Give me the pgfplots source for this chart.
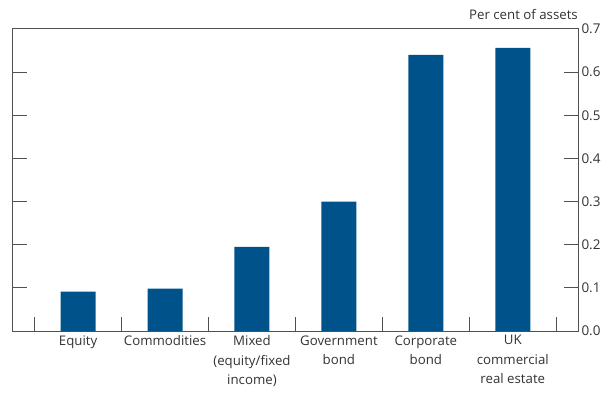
\documentclass[border=0pt]{standalone}
\usepackage{pgfplots}
\pgfplotsset{compat=1.18}
\usepackage{fontspec}
\setmainfont{Open Sans}
\definecolor{boe}{RGB}{0,83,138}
\definecolor{axgray}{RGB}{80,80,80}
\definecolor{txt}{RGB}{51,51,51}
\begin{document}
\begin{tikzpicture}[x=1bp,y=1bp]
\useasboundingbox (0,0) rectangle (613,394);
\begin{axis}[
  ybar, bar width=35bp,
  at={(12bp,63bp)}, anchor=south west,
  width=566bp, height=302bp, scale only axis,
  xmin=-0.76, xmax=5.75, ymin=0, ymax=0.7,
  axis line style={axgray, line width=1bp},
  every tick/.style={axgray, line width=1bp},
  major tick length=14.5bp,
  ytick={0,0.1,...,0.7},
  ytick pos=both,
  yticklabel pos=right,
  yticklabel style={/pgf/number format/fixed, /pgf/number format/fixed zerofill, /pgf/number format/precision=1, text=txt, font=\fontsize{13.5}{15}\selectfont, xshift=0bp},
  /pgf/number format/assume math mode=true,
  xtick={-0.5,0.5,1.5,2.5,3.5,4.5,5.5},
  xticklabels={},
  xtick pos=left,
  extra x ticks={0,1,2,3,4,5},
  extra x tick labels={Equity, Commodities, Mixed\\(equity/fixed\\income), Government\\bond, Corporate\\bond, UK\\commercial\\real estate},
  extra x tick style={major tick length=0pt, xticklabel style={align=center, text=txt, font=\fontsize{13.3}{19.5}\selectfont, yshift=-1bp}},
  tick align=inside,
  xtick align=inside,
  ytick align=inside,
  clip=false,
]
\addplot[fill=boe, draw=none] coordinates {(0,0.091) (1,0.098) (2,0.195) (3,0.300) (4,0.640) (5,0.656)};
\node[anchor=base east, text=txt, font=\fontsize{13.3}{15}\selectfont, inner sep=0pt] at ([yshift=9bp]rel axis cs:1,1) {Per cent of assets};
\end{axis}
\end{tikzpicture}
\end{document}
